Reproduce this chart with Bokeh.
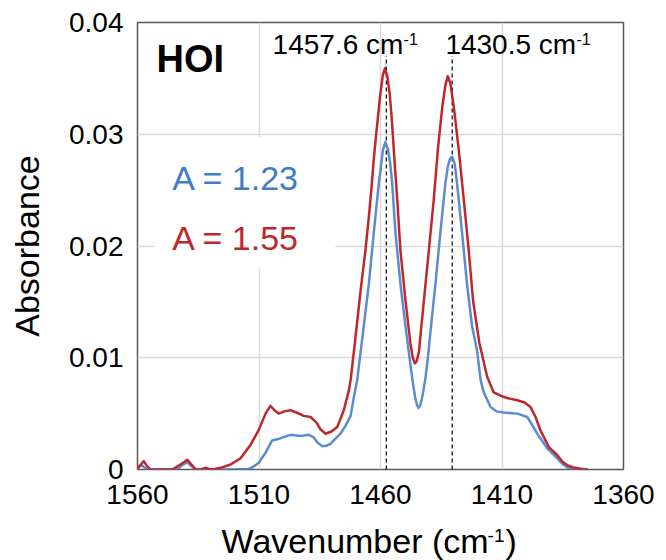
from bokeh.plotting import figure
from bokeh.layouts import column
from bokeh.models import FixedTicker, Label, BoxAnnotation
from bokeh.embed import file_html
from bokeh.resources import INLINE

# ---- data -----------------------------------------------------------------
# absorbance spectra (wavenumber in cm-1, absorbance)
red_x = [1560.0, 1558.8, 1557.4, 1556.1, 1554.7, 1550.5, 1545.7, 1542.3, 1539.5, 1537.8,
         1536.1, 1534.1, 1532.0, 1530.4, 1529.1, 1525.8, 1521.7, 1517.6, 1513.5, 1510.2,
         1507.3, 1505.3, 1503.6, 1501.9, 1499.5, 1497.0, 1494.6, 1491.6, 1488.8, 1486.3,
         1484.7, 1482.6, 1480.2, 1477.8, 1475.1, 1473.0, 1472.3, 1470.3, 1468.2, 1466.2,
         1464.8, 1463.7, 1462.8, 1461.7, 1460.0, 1459.1, 1458.2, 1457.2, 1456.2, 1455.3,
         1454.4, 1453.1, 1451.8, 1449.7, 1447.7, 1446.7, 1445.9, 1445.1, 1444.2, 1442.2,
         1440.1, 1438.1, 1436.4, 1434.6, 1433.3, 1432.3, 1431.2, 1429.8, 1427.8, 1425.7,
         1423.7, 1421.9, 1419.3, 1416.1, 1413.4, 1410.6, 1407.9, 1403.7, 1400.7, 1398.3,
         1396.2, 1394.2, 1390.7, 1387.3, 1385.1, 1383.2, 1381.0, 1377.7, 1374.8]
red_y = [0.0001, 0.0004, 0.00075, 0.0003, 0.0, 0.0, 0.0, 0.00045, 0.00087, 0.00045,
         0.0, 0.0, 0.00015, 0.00005, 0.0, 0.00015, 0.00045, 0.0010, 0.0022, 0.0035,
         0.0050, 0.0057, 0.0053, 0.0050, 0.0052, 0.0053, 0.0051, 0.0048, 0.0047, 0.0042,
         0.0036, 0.0032, 0.0034, 0.0038, 0.0053, 0.0071, 0.0080, 0.0118, 0.0160, 0.0196,
         0.0226, 0.0252, 0.0277, 0.0302, 0.0337, 0.0352, 0.0359, 0.0352, 0.0336, 0.0312,
         0.0282, 0.0241, 0.0196, 0.0151, 0.0113, 0.0100, 0.0095, 0.0097, 0.0105, 0.0150,
         0.0196, 0.0241, 0.0286, 0.0324, 0.0344, 0.0352, 0.0345, 0.0324, 0.0286, 0.0241,
         0.0196, 0.0151, 0.0113, 0.0083, 0.0069, 0.0066, 0.0064, 0.0062, 0.0060, 0.0056,
         0.0047, 0.0035, 0.0020, 0.0013, 0.0007, 0.0004, 0.0002, 0.00006, 0.0]

blue_x = [1560.0, 1558.1, 1556.7, 1554.7, 1546.4, 1543.1, 1541.5, 1539.5, 1537.8, 1535.7,
          1521.7, 1514.3, 1512.7, 1510.1, 1507.3, 1504.6, 1502.5, 1499.9, 1497.0, 1492.9,
          1489.5, 1487.6, 1485.9, 1484.0, 1482.6, 1480.6, 1476.5, 1474.4, 1472.3, 1471.2,
          1469.6, 1466.9, 1464.8, 1462.8, 1460.7, 1460.0, 1459.0, 1458.0, 1457.0, 1456.0,
          1455.2, 1453.8, 1451.8, 1449.7, 1448.3, 1447.4, 1446.5, 1445.7, 1445.0, 1444.4,
          1443.7, 1443.0, 1442.3, 1441.5, 1440.5, 1439.5, 1437.4, 1435.4, 1433.3, 1432.3,
          1431.4, 1430.5, 1429.5, 1428.5, 1426.4, 1424.4, 1422.3, 1420.3, 1418.8, 1417.5,
          1414.7, 1412.2, 1409.4, 1403.7, 1399.6, 1397.9, 1395.5, 1391.4, 1387.3, 1385.1,
          1383.2, 1379.1, 1375.7]
blue_y = [0.00015, 0.00036, 0.0001, 0.0, 0.0, 0.0001, 0.0004, 0.00065, 0.0003, 0.0,
          0.0, 0.00005, 0.0002, 0.0006, 0.0015, 0.0026, 0.0027, 0.0029, 0.0031, 0.0030,
          0.0031, 0.0029, 0.0024, 0.0021, 0.0021, 0.0023, 0.0032, 0.0039, 0.0048, 0.0062,
          0.0080, 0.0128, 0.0166, 0.0211, 0.0256, 0.0268, 0.0286, 0.0293, 0.0287, 0.0274,
          0.0256, 0.0211, 0.0166, 0.0128, 0.0104, 0.0089, 0.0075, 0.0064, 0.0058, 0.0055,
          0.0057, 0.0063, 0.0071, 0.0082, 0.0100, 0.0122, 0.0166, 0.0211, 0.0256, 0.0271,
          0.0278, 0.0280, 0.0274, 0.0256, 0.0211, 0.0166, 0.0128, 0.0107, 0.0080, 0.0069,
          0.0056, 0.0052, 0.0051, 0.0050, 0.0047, 0.0041, 0.0032, 0.0019, 0.0010, 0.0005,
          0.0002, 0.0, 0.0]

peak_positions = [1457.6, 1430.5]
peak_labels = ["1457.6 cm", "1430.5 cm"]

x_ticks = [1560, 1510, 1460, 1410, 1360]
y_ticks = [0, 0.01, 0.02, 0.03, 0.04]
y_tick_labels = ["0", "0.01", "0.02", "0.03", "0.04"]

series_labels = ["A = 1.23", "A = 1.55"]

# ---- style ----------------------------------------------------------------
FONT = "Liberation Sans"
RED = "#C0272D"
BLUE_LINE = "#5B8CD0"
BLUE_TEXT = "#3E7CC3"
BORDER_L, BORDER_R = 137, 43

p = figure(width=666, height=515, x_range=(1560, 1360), y_range=(0, 0.04),
           output_backend="svg", toolbar_location=None,
           min_border_left=BORDER_L, min_border_right=BORDER_R,
           min_border_top=22, min_border_bottom=46)
p.background_fill_color = "white"
p.border_fill_color = "white"
p.outline_line_color = "#595959"
p.outline_line_width = 1.5

p.xaxis.ticker = FixedTicker(ticks=x_ticks)
p.yaxis.ticker = FixedTicker(ticks=y_ticks)
p.yaxis.major_label_overrides = dict(zip(y_ticks, y_tick_labels))

for ax in (p.xaxis, p.yaxis):
    ax.axis_line_color = None
    ax.major_tick_line_color = None
    ax.minor_tick_line_color = None
    ax.major_label_text_font = FONT
    ax.major_label_text_font_size = "28px"
    ax.major_label_text_color = "black"
p.xaxis.major_label_standoff = 9
p.yaxis.major_label_standoff = 8

p.yaxis.axis_label = "Absorbance"
p.yaxis.axis_label_text_font = FONT
p.yaxis.axis_label_text_font_size = "34px"
p.yaxis.axis_label_text_font_style = "normal"
p.yaxis.axis_label_text_color = "black"
p.yaxis.axis_label_standoff = 20

p.xgrid.grid_line_color = "#d9d9d9"
p.ygrid.grid_line_color = "#d9d9d9"
p.xgrid.grid_line_width = 1.5
p.ygrid.grid_line_width = 1.5

# white panel behind the series labels
p.add_layout(BoxAnnotation(left=1553.0, right=1478.5, bottom=0.0180, top=0.0297,
                           fill_color="white", fill_alpha=1.0, line_color=None))

# peak markers
p.segment(x0=peak_positions, y0=[0, 0], x1=peak_positions, y1=[0.0370, 0.0370],
          line_color="black", line_width=1.2, line_dash="4 3")

# spectra
p.line(blue_x, blue_y, line_color=BLUE_LINE, line_width=2.5, line_join="round")
p.line(red_x, red_y, line_color=RED, line_width=2.5, line_join="round")


def add_text(fig, x, y, text, size, color="black", style="normal",
             x_offset=0, raise_px=0):
    # the label anchor sits near the middle of the glyphs, so lift it by ~0.35 em
    # to put the alphabetic baseline on y
    fig.add_layout(Label(x=x, y=y, text=text,
                         text_font=FONT, text_font_size=f"{size}px", text_color=color,
                         text_font_style=style, text_baseline="alphabetic",
                         text_align="left", x_offset=x_offset,
                         y_offset=raise_px + round(0.35 * size)))


# peak labels with superscript
for xs, lab in zip([1504.4, 1433.3], peak_labels):
    add_text(p, xs, 0.03714, lab, 28)
    add_text(p, xs, 0.03714, "-1", 16, x_offset=131, raise_px=9)

add_text(p, 1552.2, 0.03553, "HOI", 38, style="bold")
add_text(p, 1545.7, 0.02497, series_labels[0], 34, color=BLUE_TEXT)
add_text(p, 1545.7, 0.01966, series_labels[1], 34, color=RED)

# x-axis title strip sharing the wavenumber range, so the superscript can be set
t = figure(width=666, height=45, x_range=p.x_range, y_range=(0, 45),
           output_backend="svg", toolbar_location=None,
           x_axis_location=None, y_axis_location=None,
           min_border_left=BORDER_L, min_border_right=BORDER_R,
           min_border_top=0, min_border_bottom=0)
t.outline_line_color = None
t.grid.visible = False
t.background_fill_color = "white"
t.border_fill_color = "white"
add_text(t, 1525.4, 8, "Wavenumber (cm", 34)
add_text(t, 1525.4, 8, "-1", 19, x_offset=266, raise_px=10)
add_text(t, 1525.4, 8, ")", 34, x_offset=284)

layout = column(p, t, spacing=0)
open("out.html", "w").write(file_html(layout, INLINE))
